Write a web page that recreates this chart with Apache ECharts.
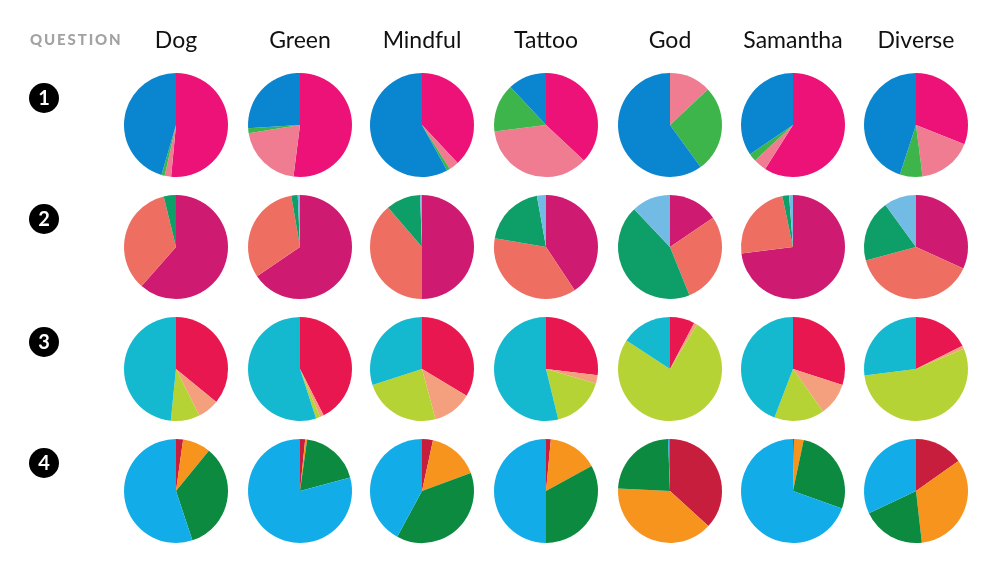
<!DOCTYPE html>
<html lang="en">
<head>
  <meta charset="UTF-8" />
  <title>question pies</title>
  <style>
    * { margin: 0; padding: 0; }
    html, body { width: 100%; height: 100%; background: #fff; }
    #chart { width: 1000px; height: 568px; }
  </style>
</head>
<body>
  <div id="chart"></div>
  <script src="https://cdn.jsdelivr.net/npm/echarts@6/dist/echarts.min.js"></script>
  <script>
    // column headers (the words asked about)
    var words = ['Dog', 'Green', 'Mindful', 'Tattoo', 'God', 'Samantha', 'Diverse'];
    var questionLabels = ['1', '2', '3', '4'];

    // shares (%) per word, clockwise from 12 o'clock, 4 answers each
    var q1 = [
      [51.5, 2, 1, 45.5],
      [52, 20.5, 1.5, 26],
      [38, 3, 1, 58],
      [37, 36, 15, 12],
      [0, 13, 27, 60],
      [59, 4, 2.5, 34.5],
      [31, 17, 7, 45]
    ];
    var q2 = [
      [61.5, 34.7, 3.8, 0],
      [65.5, 31.8, 2, 0.7],
      [50, 38.7, 10.7, 0.6],
      [40.7, 37, 19.5, 2.8],
      [15.5, 28.4, 44, 12.1],
      [73, 23.7, 2.1, 1.2],
      [31.8, 39, 19.2, 10]
    ];
    var q3 = [
      [35.9, 6.7, 9, 48.4],
      [42.5, 1.2, 1.3, 55],
      [33.6, 12.2, 24.2, 30],
      [26.9, 2.6, 16.7, 53.8],
      [7.7, 1, 75.5, 15.8],
      [30, 10.2, 15.6, 44.2],
      [17.6, 1, 54.4, 27]
    ];
    var q4 = [
      [2.2, 8.7, 34, 55.1],
      [1.6, 0.6, 18.6, 79.2],
      [3.4, 16, 38.5, 42.1],
      [1.5, 15.5, 33, 50],
      [36.8, 39, 23.6, 0.6],
      [0.3, 3, 27.2, 69.5],
      [15.2, 33, 19.8, 32]
    ];
    var questions = [q1, q2, q3, q4];

    var palettes = [
      ['#ec1278', '#f07c92', '#3db54a', '#0a86d0'],
      ['#cf1a71', '#ee6f62', '#0e9e68', '#72bbe5'],
      ['#e8174f', '#f4a07e', '#b6d335', '#14b9cf'],
      ['#c81e3e', '#f7941d', '#0b8a40', '#12ade8']
    ];

    var colX = [176, 300, 422, 546, 670, 793, 916];
    var rowY = [125, 247, 369, 491];
    var numY = [98, 219, 342, 463];

    var series = [];
    questions.forEach(function (rows, r) {
      rows.forEach(function (vals, c) {
        series.push({
          type: 'pie',
          center: [colX[c], rowY[r]],
          radius: 52,
          startAngle: 90,
          clockwise: true,
          silent: true,
          label: { show: false },
          labelLine: { show: false },
          itemStyle: { borderWidth: 0 },
          data: vals.map(function (v, i) {
            return { value: v, itemStyle: { color: palettes[r][i] } };
          })
        });
      });
    });

    var graphic = [{
      type: 'text',
      left: 30,
      top: 33,
      style: {
        text: 'Q\u2009U\u2009E\u2009S\u2009T\u2009I\u2009O\u2009N',
        font: '900 15px Lato, sans-serif',
        fill: '#a3a3a3'
      }
    }];
    words.forEach(function (w, c) {
      graphic.push({
        type: 'text',
        x: colX[c],
        y: 41,
        style: {
          text: w,
          font: '23px Lato, sans-serif',
          fill: '#111',
          align: 'center',
          verticalAlign: 'middle'
        }
      });
    });
    questionLabels.forEach(function (n, r) {
      graphic.push({
        type: 'circle',
        shape: { cx: 44, cy: numY[r], r: 15 },
        style: { fill: '#000' }
      });
      graphic.push({
        type: 'text',
        x: 44,
        y: numY[r] + 1,
        style: {
          text: n,
          font: 'bold 20px Lato, sans-serif',
          fill: '#fff',
          align: 'center',
          verticalAlign: 'middle'
        }
      });
    });

    var myChart = echarts.init(document.getElementById('chart'));
    myChart.setOption({
      animation: false,
      backgroundColor: '#fff',
      graphic: graphic,
      series: series
    });
  </script>
</body>
</html>
